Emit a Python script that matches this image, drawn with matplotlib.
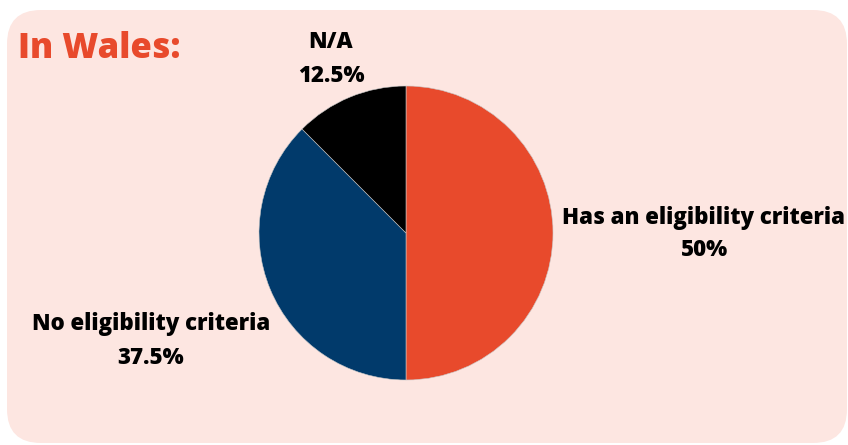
import matplotlib.pyplot as plt
from matplotlib.patches import FancyBboxPatch

# ─── DATA ────────────────────────────────────────────────
categories = ["Has an eligibility criteria", "No eligibility criteria", "N/A"]
shares     = [50, 37.5, 12.5]
colors     = ["#E84A2C", "#013A6B", "#000000"]

# label anchor positions (figure pixels, from top-left)
label_xy   = [(704, 234), (151, 341), (331, 59)]

W, H = 848, 445
BG_PANEL = "#FDE6E1"
TITLE_CLR = "#E84A2C"

plt.rcParams['font.family'] = ['Open Sans', 'DejaVu Sans']

fig = plt.figure(figsize=(W / 100, H / 100), dpi=100)
fig.patch.set_facecolor("white")

# rounded background panel, kept behind the pie axes
panel = FancyBboxPatch((7 / W, 2 / H), 840 / W, 433 / H,
                       boxstyle="round,pad=0,rounding_size=0.04",
                       transform=fig.transFigure, facecolor=BG_PANEL,
                       edgecolor="none", mutation_aspect=W / H, zorder=-10)
fig.patches.append(panel)

fig.text(18 / W, 1 - 58 / H, "In Wales:", color=TITLE_CLR,
         fontsize=25, fontweight="heavy", ha="left", va="baseline")

# pie: centre (406, 233), radius 147 px
r = 147
ax = fig.add_axes([(406 - r) / W, 1 - (233 + r) / H, 2 * r / W, 2 * r / H])
ax.set_zorder(5)
ax.patch.set_visible(False)
ax.pie(shares, colors=colors, startangle=90, counterclock=False,
       wedgeprops=dict(linewidth=0.4, edgecolor="#c8c8c8"))
ax.set_aspect("equal")
ax.set_xlim(-1, 1)
ax.set_ylim(-1, 1)
ax.axis("off")

for name, val, (x, y) in zip(categories, shares, label_xy):
    fig.text(x / W, 1 - y / H, f"{name}\n{val:g}%", ha="center", va="center",
             fontsize=16, fontweight="heavy", color="black", linespacing=1.5)

fig.savefig("out.png", dpi=100, facecolor=fig.get_facecolor())
